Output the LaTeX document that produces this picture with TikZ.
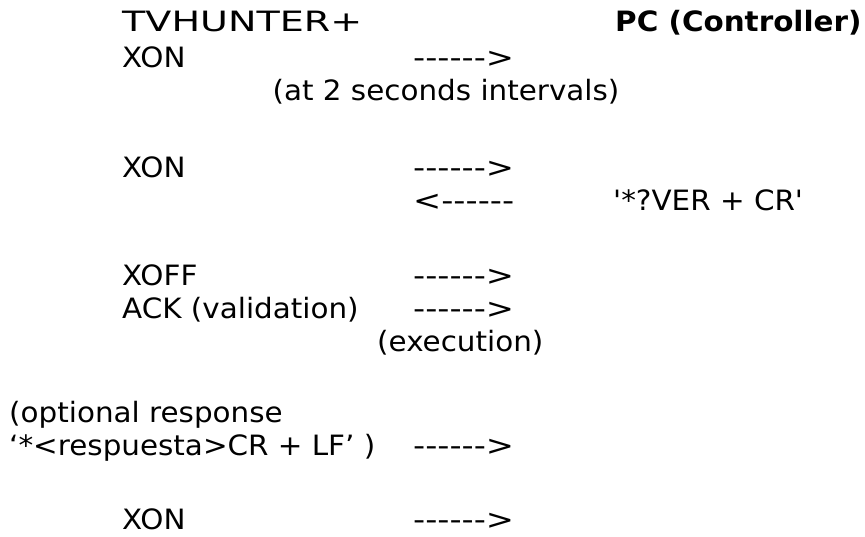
\documentclass[tikz,border=0pt]{standalone}
\usepackage{fontspec}
\setmainfont{DejaVu Sans}[Ligatures=TeXOff, FakeStretch=1.05]
\newfontfamily\logofont{DejaVu Sans}[Ligatures=TeXOff, FakeStretch=1.36]
\newfontfamily\arrowfont{DejaVu Sans}[Ligatures=TeXOff, FakeStretch=1.2]
\definecolor{msgtext}{RGB}{0,0,0}

\tikzset{
    msg/.style={anchor=base west, inner sep=0pt, text=msgtext, font=\fontsize{28}{34}\selectfont},
    arr/.style={msg, font=\arrowfont\fontsize{28}{34}\selectfont},
}

\begin{document}
\begin{tikzpicture}[x=1pt, y=1pt]
    \useasboundingbox (0,0) rectangle (865,-536);

    % column heads
    \node[msg, font=\logofont\fontsize{28}{34}\selectfont] (tvh) at (122,-31) {TVHUNTER+};
    \node[msg, font=\bfseries\fontsize{28}{34}\selectfont] (pc) at (615,-31) {PC (Controller)};

    % device side
    \foreach \y/\txt/\nm in {67/XON/xon1, 177/XON/xon2, 285/XOFF/xoff, 318/ACK (validation)/ack, 529/XON/xon3} {
        \node[msg] (\nm) at (122,-\y) {\txt};
    }

    % arrows to the PC
    \foreach \y/\nm in {67/arr1, 177/arr2, 285/arr3, 318/arr4, 455/arr5, 529/arr6} {
        \node[arr] (\nm) at (413,-\y) {------>};
    }

    % answer from the PC
    \node[arr] (back) at (413,-210) {<------};
    \node[msg] (ver) at (613,-210) {'*?VER + CR'};

    % notes
    \node[msg, anchor=base] (interval) at (446,-100) {(at 2 seconds intervals)};
    \node[msg] (exec) at (377,-351) {(execution)};
    \node[msg] (opt) at (9,-422) {(optional response};
    \node[msg] (resp) at (9,-455) {‘*<respuesta>CR + LF’ )};
\end{tikzpicture}
\end{document}
